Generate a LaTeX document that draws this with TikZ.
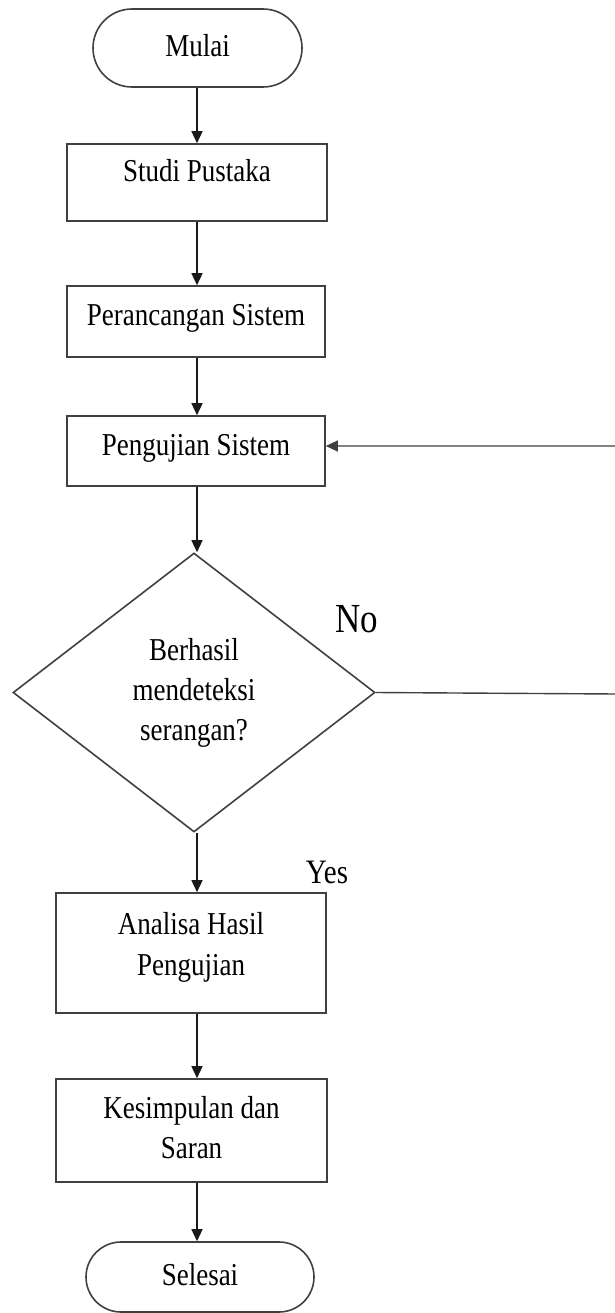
\documentclass[tikz,border=0pt]{standalone}
\usepackage{fontspec}
\setmainfont{Liberation Serif}
\usepackage{graphicx}
\usetikzlibrary{shapes.geometric,shapes.misc,arrows.meta}
\newcommand{\tx}[2][0pt]{\raisebox{#1}[\height][\depth]{\scalebox{1}[1.18]{\begin{tabular}{@{}c@{}}#2\end{tabular}}}}
\tikzset{
  base/.style={draw=black!75, line width=1.6pt, inner sep=0pt, font=\fontsize{27}{34}\selectfont},
  procbox/.style={base, rectangle},
  termbox/.style={base, rounded rectangle, rounded rectangle arc length=180},
  decbox/.style={base, diamond, aspect=1.3},
  arr/.style={-{Triangle[width=11pt,length=12pt]}, line width=1.4pt, black!90},
  lbl/.style={inner sep=0pt}
}
\begin{document}
\begin{tikzpicture}[x=1pt,y=-1pt]
\useasboundingbox (0,0) rectangle (615,1313);
\coordinate (ax) at (197,0);
\node[termbox, minimum width=209pt, minimum height=78pt] (mul) at (197.5,48) {\tx{Mulai}};
\node[procbox, minimum width=260pt, minimum height=77pt] (stu) at (197,182.5) {\tx[9.5pt]{Studi Pustaka}};
\node[procbox, minimum width=258pt, minimum height=71pt] (per) at (196,321.5) {\tx[4pt]{Perancangan Sistem}};
\node[procbox, minimum width=258pt, minimum height=70pt] (pen) at (196,451) {\tx[4pt]{Pengujian Sistem}};
\node[decbox, minimum width=362pt, minimum height=279pt] (dia) at (194,692.5) {\tx{Berhasil\\mendeteksi\\serangan?}};
\node[procbox, minimum width=270pt, minimum height=120pt] (ana) at (191,953) {\tx[6pt]{Analisa Hasil\\Pengujian}};
\node[procbox, minimum width=271pt, minimum height=103pt] (kes) at (191.5,1130.5) {\tx{Kesimpulan dan\\Saran}};
\node[termbox, minimum width=228pt, minimum height=70pt] (sel) at (200,1277) {\tx{Selesai}};
\node[lbl, font=\fontsize{35}{40}\selectfont] (no) at (357,623) {\tx{No}};
\node[lbl, font=\fontsize{29}{34}\selectfont] (yes) at (327,875) {\tx{Yes}};
\coordinate (far) at (617,694);
\draw[arr] (mul.south -| ax) -- (stu.north -| ax);
\draw[arr] (stu.south -| ax) -- (per.north -| ax);
\draw[arr] (per.south -| ax) -- (pen.north -| ax);
\draw[arr] (pen.south -| ax) -- (dia.north -| ax);
\draw[arr] (dia.south -| ax) -- (ana.north -| ax);
\draw[arr] (ana.south -| ax) -- (kes.north -| ax);
\draw[arr] (kes.south -| ax) -- (sel.north -| ax);
\draw[arr, black!75] (dia.east) -- (far) |- ([yshift=5pt]pen.east);
\end{tikzpicture}
\end{document}
